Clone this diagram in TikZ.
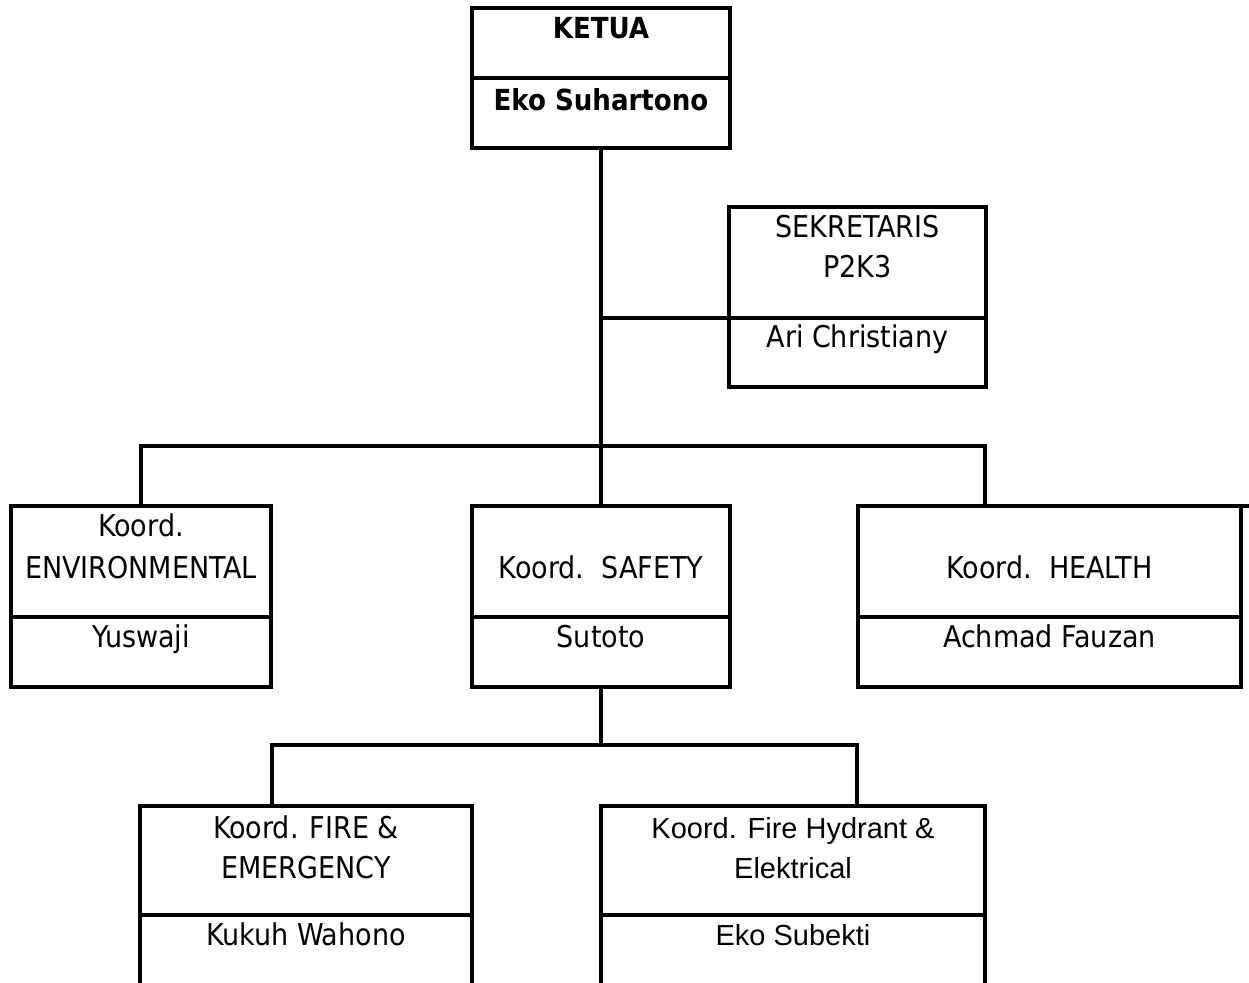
\documentclass[tikz,border=0pt]{standalone}
\usepackage{fontspec}
\newfontfamily\tahfont{DejaVu Sans Condensed}
\newfontfamily\arifont{Liberation Sans}
\begin{document}
\begin{tikzpicture}[x=1pt,y=-1pt,
  cell/.style={draw,line width=3.4pt,inner sep=0pt,outer sep=0pt},
  txt/.style={anchor=base,inner sep=0pt,font=\tahfont\fontsize{30}{35}\selectfont},
  txtb/.style={anchor=base,inner sep=0pt,font=\tahfont\bfseries\fontsize{29}{35}\selectfont},
  txta/.style={anchor=base,inner sep=0pt,font=\arifont\fontsize{29}{35}\selectfont},
  conn/.style={line width=3.4pt}]
\useasboundingbox (0,0) rectangle (1249,982);
\clip (0,0) rectangle (1249,982);
% cells
\node[cell,minimum width=258pt,minimum height=70pt] (ketuaT) at (601,43) {};
\node[cell,minimum width=258pt,minimum height=70pt] (ketuaB) at (601,113) {};
\node[cell,minimum width=257pt,minimum height=111pt] (sekT) at (857.5,262.5) {};
\node[cell,minimum width=257pt,minimum height=69pt] (sekB) at (857.5,352.5) {};
\node[cell,minimum width=260pt,minimum height=111pt] (envT) at (141,561.5) {};
\node[cell,minimum width=260pt,minimum height=70pt] (envB) at (141,652) {};
\node[cell,minimum width=258pt,minimum height=111pt] (safT) at (601,561.5) {};
\node[cell,minimum width=258pt,minimum height=70pt] (safB) at (601,652) {};
\node[cell,minimum width=383pt,minimum height=111pt] (heaT) at (1049.5,561.5) {};
\node[cell,minimum width=383pt,minimum height=70pt] (heaB) at (1049.5,652) {};
\node[cell,minimum width=332pt,minimum height=109pt] (fireT) at (306,860.5) {};
\node[cell,minimum width=332pt,minimum height=95pt] (fireB) at (306,962.5) {};
\node[cell,minimum width=384pt,minimum height=109pt] (hydT) at (793,860.5) {};
\node[cell,minimum width=384pt,minimum height=95pt] (hydB) at (793,962.5) {};
% texts
\node[txtb] (t1) at (601,38) {KETUA};
\node[txtb] (t2) at (601,110) {Eko Suhartono};
\node[txt] (t3) at (857.5,237) {SEKRETARIS};
\node[txt] (t4) at (857.5,277) {P2K3};
\node[txt] (t5) at (857.5,347) {Ari Christiany};
\node[txt] (t6) at (141,536) {Koord.};
\node[txt] (t7) at (141,578) {ENVIRONMENTAL};
\node[txt] (t8) at (141,647) {Yuswaji};
\node[txt] (t9) at (601,578) {Koord.\ \ SAFETY};
\node[txt] (t10) at (601,647) {Sutoto};
\node[txt] (t11) at (1049.5,578) {Koord.\ \ HEALTH};
\node[txt] (t12) at (1049.5,647) {Achmad Fauzan};
\node[txt] (t13) at (306,838) {Koord. FIRE \&};
\node[txt] (t14) at (306,878) {EMERGENCY};
\node[txt] (t15) at (306,945) {Kukuh Wahono};
\node[txta] (t16) at (793,838) {Koord. Fire Hydrant \&};
\node[txta] (t17) at (793,878) {Elektrical};
\node[txta] (t18) at (793,945) {Eko Subekti};
% connectors
\coordinate (j1) at (601,318);
\coordinate (bus) at (601,446);
\coordinate (heaIn) at (985,506);
\coordinate (bus2) at (601,745);
\coordinate (fireIn) at (272,806);
\coordinate (hydIn) at (857,806);
\coordinate (heaExt) at (1249,506);
\draw[conn] (ketuaB.south) -- (safT.north);
\draw[conn] (j1) -- (sekB.north west);
\draw[conn] (envT.north) |- (bus) -| (heaIn);
\draw[conn] (heaT.north east) -- (heaExt);
\draw[conn] (safB.south) -- (bus2);
\draw[conn] (fireIn) |- (bus2) -| (hydIn);
\end{tikzpicture}
\end{document}
